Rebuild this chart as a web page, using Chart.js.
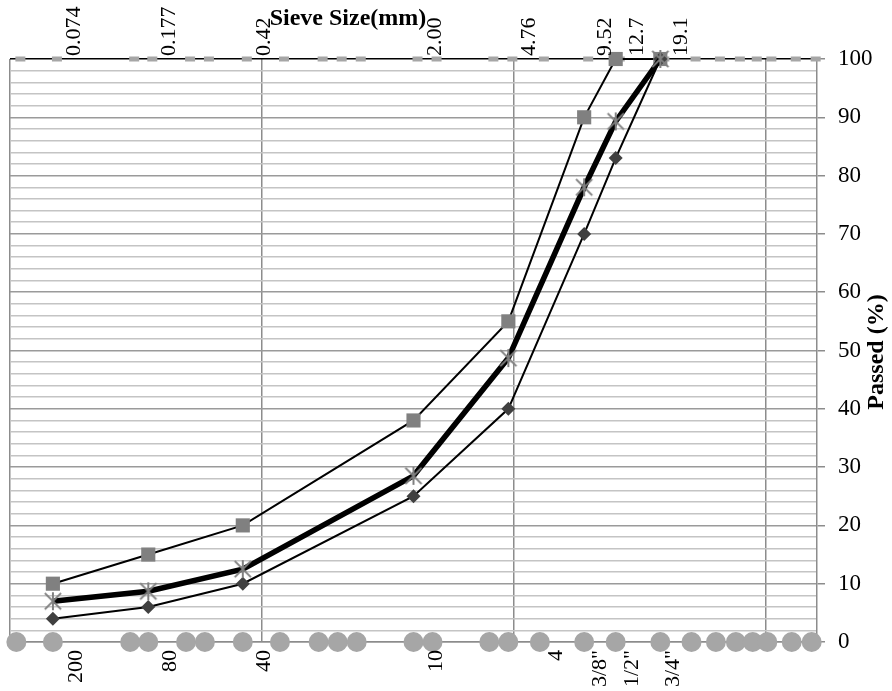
<!DOCTYPE html>
<html>
<head>
<meta charset="utf-8">
<title>Curva granulometrica</title>
<script src="https://cdn.jsdelivr.net/npm/chart.js@4.4.1/dist/chart.umd.min.js"></script>
<style>
    html, body { margin: 0; padding: 0; background: #fff; }
    canvas { display: block; }
</style>
</head>
<body>
<canvas id="grafico" width="892" height="691"></canvas>
<script>
// ================== DATOS ==================

// Tamices de la curva (abertura en mm) y sus rotulos
const tamizMm = [0.074, 0.177, 0.42, 2.00, 4.76, 9.52, 12.7, 19.1];
const etiquetasMm = ['0.074', '0.177', '0.42', '2.00', '4.76', '9.52', '12.7', '19.1'];
const etiquetasTamiz = ['200', '80', '40', '10', '4', '3/8"', '1/2"', '3/4"'];

// Porcentaje que pasa
const limiteSuperior = [10, 15, 20, 38, 55, 90, 100, 100];
const limiteInferior = [4, 6, 10, 25, 40, 70, 83, 100];
const granulometria = [7, 8.7, 12.5, 28.5, 48.7, 78, 89.3, 100];

// Serie completa de tamices (marcas en 0 y en 100)
const serieTamices = [0.053, 0.074, 0.15, 0.177, 0.25, 0.297, 0.42, 0.59, 0.84, 1.0, 1.19,
    2.0, 2.38, 4.0, 4.76, 6.35, 9.52, 12.7, 19.1, 25.4, 31.75, 38.1, 44.45, 50.8, 63.5, 76.2];

// Ejes: lineas verticales (log) y rotulos del eje de porcentaje
const lineasX = [0.05, 0.5, 5, 50];
const ticksPasa = [0, 10, 20, 30, 40, 50, 60, 70, 80, 90, 100];
const pasoMenor = 2;

// ================== AJUSTES DE POSICION ==================
// desplazamiento (px) de los rotulos inferiores respecto al punto
const corrimientoInferior = [29, 28, 27, 28, 54, 22, 22, 19];

const fuente = '"Liberation Serif", "Times New Roman", serif';
Chart.defaults.font.family = fuente;

// Marcador asterisco (como el de Excel)
function crearAsterisco(tam, color) {
    const c = document.createElement('canvas');
    c.width = tam; c.height = tam;
    const g = c.getContext('2d');
    const m = tam / 2, r = tam / 2 - 1;
    g.strokeStyle = color;
    g.lineWidth = 2;
    g.beginPath();
    g.moveTo(m - r * 0.9, m - r * 0.9); g.lineTo(m + r * 0.9, m + r * 0.9);
    g.moveTo(m + r * 0.9, m - r * 0.9); g.lineTo(m - r * 0.9, m + r * 0.9);
    g.moveTo(m, m - r); g.lineTo(m, m + r);
    g.stroke();
    return c;
}

// Marcador guion, corrido un poco a la derecha
function crearGuion(color) {
    const c = document.createElement('canvas');
    c.width = 30; c.height = 6;
    const g = c.getContext('2d');
    g.fillStyle = color;
    g.fillRect(14, 0.5, 10, 5);
    return c;
}

const puntos = (xs, ys) => xs.map((v, i) => ({ x: v, y: ys[i] }));

// Rotulos de texto dibujados sobre las escalas
const rotulos = {
    id: 'rotulos',
    afterDraw(chart) {
        const ctx = chart.ctx, sx = chart.scales.x, sy = chart.scales.y;
        ctx.save();
        ctx.fillStyle = '#000';
        ctx.textBaseline = 'alphabetic';

        // arriba: abertura en mm
        ctx.font = '22px ' + fuente;
        ctx.textAlign = 'left';
        tamizMm.forEach(function (d, i) {
            ctx.save();
            ctx.translate(sx.getPixelForValue(d) + 27, sy.top - 3);
            ctx.rotate(-Math.PI / 2);
            ctx.fillText(etiquetasMm[i], 0, 0);
            ctx.restore();
        });

        // abajo: numero de tamiz
        ctx.textAlign = 'right';
        tamizMm.forEach(function (d, i) {
            ctx.save();
            ctx.translate(sx.getPixelForValue(d) + corrimientoInferior[i], sy.bottom + 8);
            ctx.rotate(-Math.PI / 2);
            ctx.fillText(etiquetasTamiz[i], 0, 0);
            ctx.restore();
        });

        // titulos
        ctx.font = 'bold 24px ' + fuente;
        ctx.textAlign = 'center';
        ctx.fillText('Sieve Size(mm)', 348, 25);

        ctx.save();
        ctx.translate(883, 352);
        ctx.rotate(-Math.PI / 2);
        ctx.fillText('Passed (%)', 0, 0);
        ctx.restore();

        ctx.restore();
    }
};

const config = {
    type: 'scatter',
    data: {
        datasets: [{
            label: 'Gradacion',
            data: puntos(tamizMm, granulometria),
            showLine: true,
            borderColor: '#000',
            borderWidth: 5.5,
            pointStyle: crearAsterisco(20, '#808080'),
            order: 1,
            clip: false
        }, {
            label: 'Limite inferior',
            data: puntos(tamizMm, limiteInferior),
            showLine: true,
            borderColor: '#000',
            borderWidth: 2,
            pointStyle: 'rectRot',
            pointRadius: 7,
            pointBackgroundColor: '#404040',
            pointBorderWidth: 0,
            order: 2,
            clip: false
        }, {
            label: 'Limite superior',
            data: puntos(tamizMm, limiteSuperior),
            showLine: true,
            borderColor: '#000',
            borderWidth: 2,
            pointStyle: 'rect',
            pointRadius: 10,
            pointBackgroundColor: '#808080',
            pointBorderWidth: 0,
            order: 3,
            clip: false
        }, {
            label: 'Tamices arriba',
            data: serieTamices.map(v => ({ x: v, y: 100 })),
            showLine: false,
            pointStyle: crearGuion('#a6a6a6'),
            order: 4,
            clip: false
        }, {
            label: 'Tamices abajo',
            data: serieTamices.map(v => ({ x: v, y: 0 })),
            showLine: false,
            pointStyle: 'circle',
            pointRadius: 10,
            pointBackgroundColor: '#a6a6a6',
            pointBorderWidth: 0,
            order: 5,
            clip: false
        }]
    },
    options: {
        responsive: false,
        animation: false,
        layout: { padding: { top: 59, left: 7, right: 0, bottom: 0 } },
        plugins: {
            legend: { display: false },
            tooltip: { enabled: false },
            title: { display: false }
        },
        scales: {
            x: {
                type: 'logarithmic',
                position: 'bottom',
                min: 0.05,
                max: 80,
                afterBuildTicks: function (scale) {
                    scale.ticks = lineasX.map(v => ({ value: v }));
                },
                afterFit: function (scale) { scale.height = 49; },
                ticks: { display: false },
                grid: { color: '#8c8c8c', lineWidth: 1.5, drawTicks: false },
                border: { color: '#8c8c8c', width: 1.5 }
            },
            y: {
                type: 'linear',
                position: 'right',
                min: 0,
                max: 100,
                afterBuildTicks: function (scale) {
                    const t = [];
                    for (let v = ticksPasa[0]; v <= ticksPasa[ticksPasa.length - 1]; v += pasoMenor) {
                        t.push({ value: v });
                    }
                    scale.ticks = t;
                },
                afterFit: function (scale) { scale.width = 75; },
                ticks: {
                    autoSkip: false,
                    padding: 13,
                    color: '#000',
                    font: { size: 23 },
                    callback: function (v) { return ticksPasa.indexOf(v) >= 0 ? v : ''; }
                },
                grid: {
                    tickLength: 8,
                    color: function (c) {
                        if (c.tick.value === 100) return '#000';
                        return ticksPasa.indexOf(c.tick.value) >= 0 ? '#9a9a9a' : '#c4c4c4';
                    },
                    lineWidth: 1.5,
                    tickColor: function (c) {
                        return ticksPasa.indexOf(c.tick.value) >= 0 ? '#8c8c8c' : 'rgba(0,0,0,0)';
                    }
                },
                border: { color: '#8c8c8c', width: 1.5 }
            }
        }
    },
    plugins: [rotulos]
};

const grafico = new Chart(document.getElementById('grafico'), config);
</script>
</body>
</html>
